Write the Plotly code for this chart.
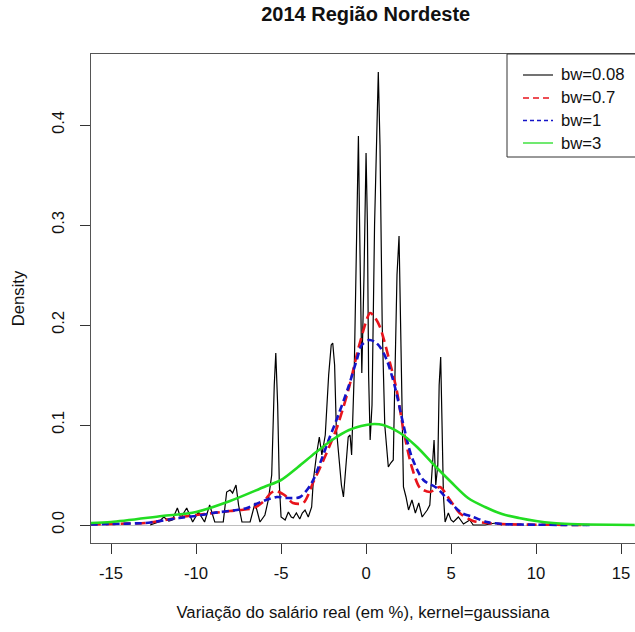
import plotly.graph_objects as go

# ---------------- data ----------------
bw008_x = [-12.7, -12.2, -11.9, -11.6, -11.4, -11.1, -10.9, -10.55, -10.2, -9.86, -9.5, -9.2, -8.9,
           -8.4, -8.2, -8.0, -7.85, -7.65, -7.5, -7.3, -6.82, -6.53, -6.24, -5.95, -5.75, -5.55, -5.4,
           -5.31, -5.2, -5.1, -5.0, -4.76, -4.57, -4.4, -4.28, -4.1, -3.9, -3.75, -3.59, -3.4, -3.2,
           -3.1, -2.9, -2.75, -2.6, -2.4, -2.2, -2.05, -1.96, -1.85, -1.75, -1.6, -1.45, -1.33, -1.2,
           -1.05, -0.94, -0.85, -0.7, -0.6, -0.5, -0.45, -0.38, -0.25, -0.12, -0.05, 0.0, 0.08, 0.15,
           0.24, 0.35, 0.5, 0.62, 0.72, 0.82, 0.95, 1.1, 1.31, 1.45, 1.6, 1.7, 1.82, 1.94, 2.05, 2.15,
           2.2, 2.35, 2.5, 2.7, 2.9, 3.1, 3.3, 3.47, 3.6, 3.75, 3.87, 4.0, 4.1, 4.22, 4.3, 4.39, 4.47,
           4.55, 4.65, 4.84, 5.0, 5.14, 5.43, 5.73, 6.1, 6.3, 7.0, 7.6, 8.0]
bw008_y = [0.0, 0.003, 0.008, 0.004, 0.005, 0.017, 0.007, 0.017, 0.003, 0.013, 0.003, 0.020, 0.003,
           0.003, 0.033, 0.035, 0.032, 0.040, 0.020, 0.003, 0.003, 0.022, 0.003, 0.010, 0.025, 0.050, 0.140,
           0.172, 0.120, 0.040, 0.008, 0.005, 0.013, 0.008, 0.007, 0.012, 0.006, 0.012, 0.015, 0.008, 0.018,
           0.045, 0.072, 0.088, 0.070, 0.090, 0.150, 0.180, 0.182, 0.160, 0.097, 0.070, 0.040, 0.028, 0.060,
           0.088, 0.090, 0.070, 0.150, 0.250, 0.370, 0.389, 0.300, 0.152, 0.250, 0.360, 0.372, 0.300, 0.150,
           0.085, 0.120, 0.300, 0.400, 0.453, 0.380, 0.200, 0.100, 0.058, 0.062, 0.065, 0.150, 0.250, 0.289, 0.180, 0.070,
           0.038, 0.028, 0.015, 0.025, 0.012, 0.022, 0.008, 0.012, 0.015, 0.020, 0.050, 0.085, 0.040, 0.060, 0.140, 0.168, 0.100,
           0.030, 0.003, 0.012, 0.005, 0.003, 0.008, 0.001, 0.005, 0.0, 0.0, 0.002, 0.0]

bw07_x = [-16.2, -15, -14, -13, -12.5, -11.5, -10.9, -10, -9, -8, -7.4, -6.6, -6.0, -5.6, -5.3, -4.8,
          -4.3, -3.7, -3.1, -2.5, -2.0, -1.7, -1.04, -0.35, 0.24, 0.5, 0.82, 1.41, 1.8, 2.2, 2.69,
          3.18, 3.76, 4.0, 4.35, 4.94, 5.5, 6.3, 7.1, 8, 9, 10, 11, 13]
bw07_y = [0.0005, 0.001, 0.0015, 0.002, 0.003, 0.006, 0.008, 0.010, 0.012, 0.014, 0.015, 0.017, 0.024, 0.032, 0.034, 0.030,
          0.022, 0.022, 0.043, 0.065, 0.085, 0.098, 0.135, 0.183, 0.212, 0.208, 0.198, 0.162, 0.135, 0.095, 0.058,
          0.037, 0.033, 0.035, 0.038, 0.025, 0.012, 0.004, 0.002, 0.001, 0.0005, 0.0003, 0.0002, 0.0]

bw1_x = [-16.2, -15, -13, -12.5, -11, -10, -9, -7.6, -7, -6.2, -5.25, -4.66, -3.88, -3.2, -2.7, -2.2,
         -1.63, -1.04, -0.55, -0.25, 0.2, 0.53, 0.82, 1.22, 1.7, 2.2, 2.69, 3.37, 4.16, 4.94, 5.63,
         6.3, 7.1, 8, 10, 13.3]
bw1_y = [0.0005, 0.001, 0.002, 0.003, 0.007, 0.009, 0.012, 0.015, 0.017, 0.023, 0.028, 0.027, 0.028, 0.042, 0.062, 0.085,
         0.110, 0.138, 0.165, 0.180, 0.185, 0.183, 0.178, 0.165, 0.138, 0.100, 0.068, 0.045, 0.037, 0.023, 0.012,
         0.008, 0.003, 0.001, 0.0003, 0.0]

bw3_x = [-16.2, -15, -12, -10, -8, -6, -5, -4, -3, -2, -1, 0, 0.5, 1, 2, 3, 4, 5, 6, 7, 8, 9, 10, 11, 12, 13, 15.8]
bw3_y = [0.002, 0.003, 0.009, 0.013, 0.024, 0.038, 0.045, 0.058, 0.072, 0.085, 0.095, 0.100, 0.101, 0.100, 0.092,
         0.078, 0.060, 0.043, 0.027, 0.018, 0.011, 0.007, 0.004, 0.002, 0.001, 0.0005, 0.0]

series_names = ["bw=0.08", "bw=0.7", "bw=1", "bw=3"]
series_colors = ["black", "#e8141c", "#1414c8", "#22dd22"]
series_dash = ["solid", "10px,5px", "7px,4px", "solid"]

x_ticks = [-15, -10, -5, 0, 5, 10, 15]
x_tick_labels = ["-15", "-10", "-5", "0", "5", "10", "15"]
y_ticks = [0.0, 0.1, 0.2, 0.3, 0.4]
y_tick_labels = ["0.0", "0.1", "0.2", "0.3", "0.4"]

title = "2014 Região Nordeste"
x_title = "Variação do salário real (em %), kernel=gaussiana"
y_title = "Density"

# ---------------- figure ----------------
FONT = "Liberation Sans, Arial, sans-serif"
fig = go.Figure()
series = [(bw008_x, bw008_y), (bw07_x, bw07_y), (bw1_x, bw1_y), (bw3_x, bw3_y)]
for i, (xs, ys) in enumerate(series):
    line = dict(color=series_colors[i], dash=series_dash[i])
    if i == 0:
        line.update(width=1.2)
    else:
        line.update(width=2.6, shape="spline", smoothing=0.8)
    fig.add_trace(go.Scatter(x=xs, y=ys, mode="lines", name=series_names[i], line=line,
                             showlegend=False))

W, H = 635, 632
L, R, T, B = 91, 0, 54, 89
pw = W - L - R
ph = H - T - B

def px_x(px):
    return (px - L) / pw

def px_y(py):
    return (H - B - py) / ph

fig.update_layout(
    width=W, height=H,
    margin=dict(l=L, r=R, t=T, b=B),
    paper_bgcolor="white", plot_bgcolor="white",
    font=dict(family=FONT, size=16.7, color="#111"),
    title=dict(text="<b>" + title + "</b>", x=px_x(365.7), xanchor="center", xref="paper",
               y=1 - 14 / H, yanchor="middle", yref="container",
               font=dict(size=20, color="#111", family=FONT)),
    showlegend=False,
)
fig.update_xaxes(range=[-16.18, 15.82], tickvals=x_ticks, ticktext=x_tick_labels, ticks="outside",
                 ticklen=10, tickcolor="#333", showline=True, linecolor="#555", linewidth=1, mirror=True,
                 showgrid=False, zeroline=False, ticklabelstandoff=5,
                 title=dict(text=x_title, standoff=24, font=dict(size=16.7)))
fig.update_yaxes(range=[-0.018, 0.471], tickvals=y_ticks, ticktext=y_tick_labels, tickangle=-90,
                 ticks="outside", ticklen=10, tickcolor="#333", showline=True, linecolor="#555",
                 linewidth=1, mirror=False, showgrid=False, zeroline=True, zerolinecolor="#bebebe",
                 zerolinewidth=1, ticklabelstandoff=9,
                 title=dict(text=y_title, standoff=20, font=dict(size=16.7)))

# legend (frame runs off the right edge of the page, as in the reference)
fig.add_shape(type="rect", xref="paper", yref="paper",
              x0=px_x(507), x1=1.05, y0=px_y(157), y1=1,
              line=dict(color="#333", width=1), fillcolor="white", layer="above")
legend_rows = [75, 98, 120.5, 143]
for i, name in enumerate(series_names):
    yy = px_y(legend_rows[i])
    fig.add_shape(type="line", xref="paper", yref="paper", x0=px_x(523), x1=px_x(553), y0=yy, y1=yy,
                  line=dict(color=series_colors[i], width=1.3 if i else 1.1,
                            dash="6px,4px" if i == 1 else ("4px,3px" if i == 2 else "solid")),
                  layer="above")
    fig.add_annotation(text=name, xref="paper", yref="paper", x=px_x(559), y=yy,
                       xanchor="left", yanchor="middle", showarrow=False,
                       font=dict(size=16.7, color="#111", family=FONT))

fig.write_html("out.html")
